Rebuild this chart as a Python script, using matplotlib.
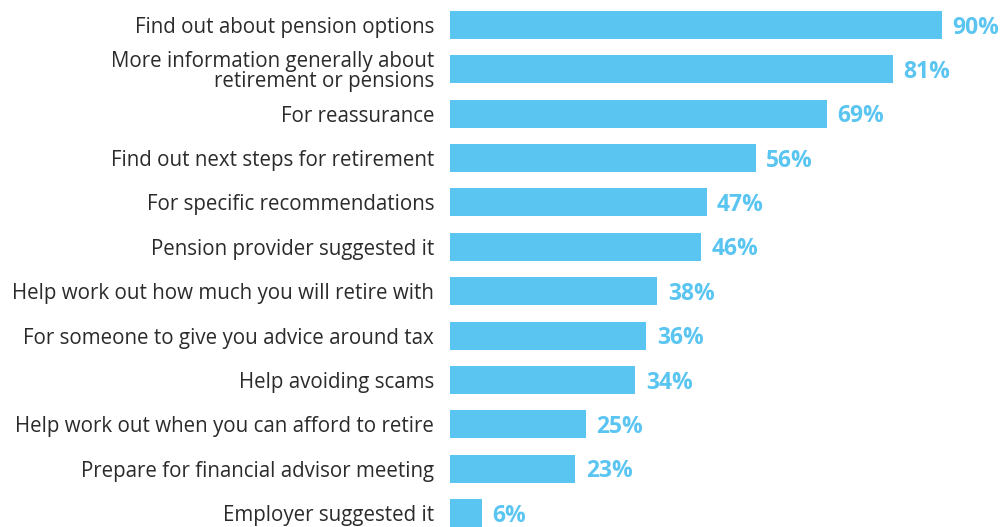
import matplotlib
matplotlib.use("Agg")
import matplotlib.pyplot as plt

categories = [
    "Find out about pension options",
    "More information generally about\nretirement or pensions",
    "For reassurance",
    "Find out next steps for retirement",
    "For specific recommendations",
    "Pension provider suggested it",
    "Help work out how much you will retire with",
    "For someone to give you advice around tax",
    "Help avoiding scams",
    "Help work out when you can afford to retire",
    "Prepare for financial advisor meeting",
    "Employer suggested it",
]
values = [90, 81, 69, 56, 47, 46, 38, 36, 34, 25, 23, 6]

BAR = "#5BC5F2"
TXT = "#2b2b2b"

fig = plt.figure(figsize=(10.02, 5.27), dpi=100)
ax = fig.add_axes([449.5/1002, 0, 552.5/1002, 1])
y = list(range(len(categories)))
ax.barh(y, values, height=0.63, color=BAR)
ax.set_xlim(0, 101)
ax.set_ylim(11 + 0.3156, -0.5636)
for yi, v in zip(y, values):
    ax.text(v + 1.9, yi + 0.06, f"{v}%", va="center", ha="left",
            fontsize=16.5, fontweight="bold", color=BAR, family="Open Sans")
ax.set_yticks(y)
ax.set_yticklabels(categories, fontsize=14.8, color=TXT, family="Open Sans",
                   linespacing=0.95)
ax.tick_params(axis="y", length=0, pad=11)
ax.set_xticks([])
for s in ax.spines.values():
    s.set_visible(False)
fig.savefig("out.png", dpi=100)
